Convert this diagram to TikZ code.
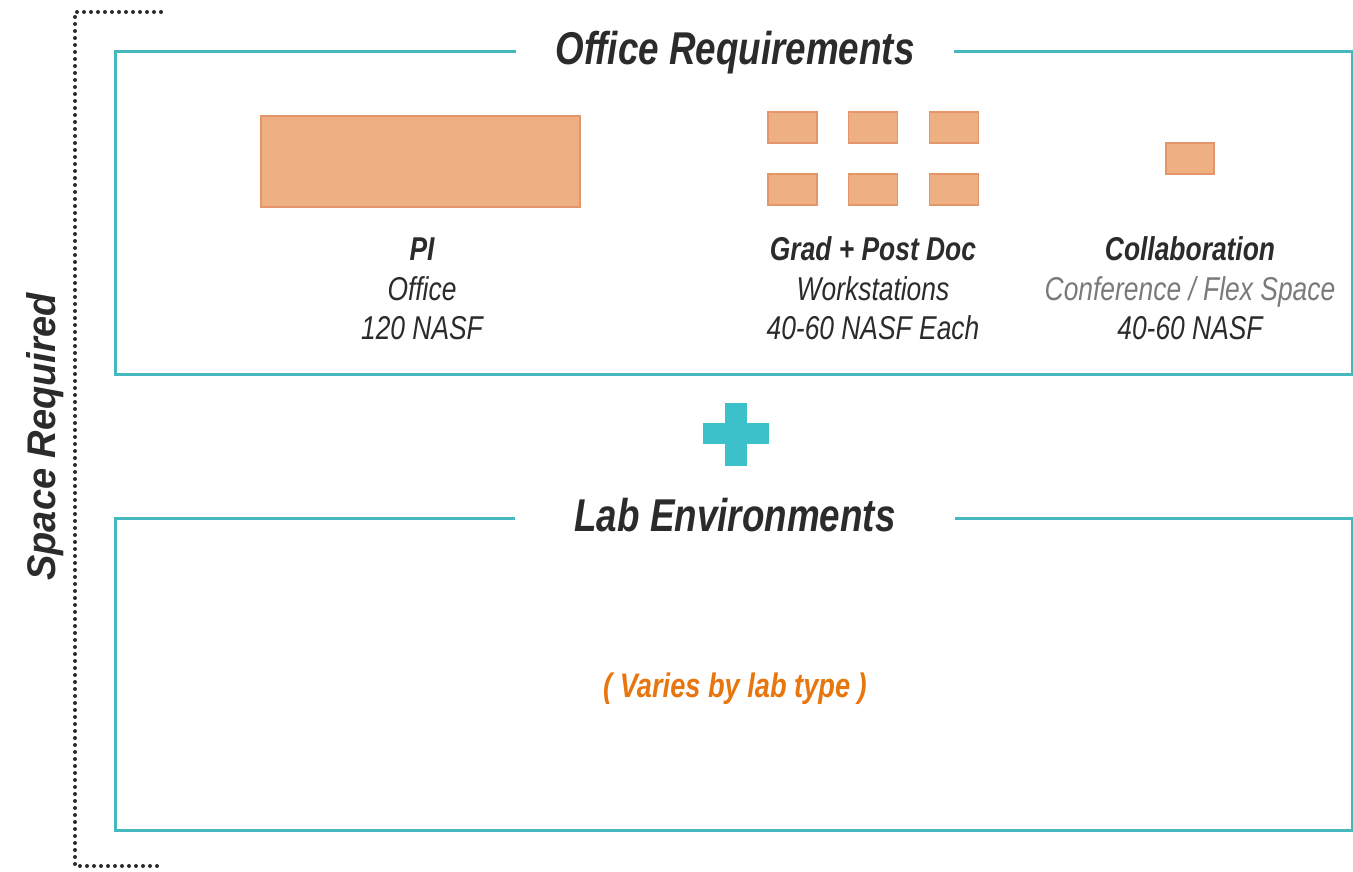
\documentclass[tikz,border=0pt]{standalone}
\usepackage{fontspec}
\setmainfont{Liberation Sans}
\newfontfamily\condfont[FakeStretch=0.8]{Liberation Sans}
\newfontfamily\sidefont[FakeStretch=0.95]{Liberation Sans}

\definecolor{frameteal}{HTML}{45B8BD}
\definecolor{plusteal}{HTML}{3CC0CA}
\definecolor{roomfill}{HTML}{EEAF82}
\definecolor{roomedge}{HTML}{E2966A}
\definecolor{inkdark}{HTML}{2B2B2B}
\definecolor{inkgray}{HTML}{7A7A7A}
\definecolor{noteorange}{HTML}{E8760F}

\begin{document}
\begin{tikzpicture}[x=1pt,y=-1pt,
  frame/.style={draw=frameteal,line width=3pt},
  heading/.style={font=\condfont\bfseries\itshape\fontsize{46}{52}\selectfont,
    text=inkdark,fill=white,inner ysep=2pt,anchor=base},
  room/.style={draw=roomedge,fill=roomfill,line width=1.2pt,inner sep=0pt},
  wsroom/.style={room,minimum width=49pt,minimum height=31pt},
  labtitle/.style={font=\condfont\bfseries\itshape\fontsize{33}{40}\selectfont,
    text=inkdark,anchor=base,inner sep=0pt},
  labtext/.style={font=\condfont\itshape\fontsize{33}{40}\selectfont,
    text=inkdark,anchor=base,inner sep=0pt},
  bracket/.style={draw=inkdark,line width=4pt,line cap=round,
    dash pattern=on 0pt off 7pt}]
\useasboundingbox (0,0) rectangle (1353,871);

% dotted bracket on the left
\coordinate (bt) at (161,12);
\coordinate (tl) at (75,12);
\coordinate (bl) at (75,866);
\coordinate (bb) at (161,866);
\draw[bracket] (bt) -- (tl) -- (bl) -- (bb);
\node[font=\sidefont\bfseries\itshape\fontsize{40}{46}\selectfont,text=inkdark,
  rotate=90,anchor=base,inner sep=0pt] (side) at (55,437) {Space Required};

% office requirements frame
\draw[frame] (115,51) rectangle (1352,374);
\node[heading,inner xsep=39pt] (offh) at (735,64) {Office Requirements};

\node[room,minimum width=319pt,minimum height=91pt] (pi) at (420.5,161.5) {};
\node[wsroom] (w1) at (792.5,127.5) {};
\node[wsroom] (w2) at (873,127.5) {};
\node[wsroom] (w3) at (954,127.5) {};
\node[wsroom] (w4) at (792.5,189.5) {};
\node[wsroom] (w5) at (873,189.5) {};
\node[wsroom] (w6) at (954,189.5) {};
\node[room,minimum width=48pt,minimum height=31pt] (co) at (1190,158.5) {};

\node[labtitle] (pit) at (422,260) {PI};
\node[labtext] (pis) at (422,300) {Office};
\node[labtext] (pia) at (422,339) {120 NASF};

\node[labtitle] (gt) at (873,260) {Grad + Post Doc};
\node[labtext] (gs) at (873,300) {Workstations};
\node[labtext] (ga) at (873,339) {40-60 NASF Each};

\node[labtitle] (ct) at (1190,260) {Collaboration};
\node[labtext,text=inkgray] (cs) at (1190,300) {Conference / Flex Space};
\node[labtext] (ca) at (1190,339) {40-60 NASF};

% plus sign
\fill[plusteal] (725,403) rectangle (747,466);
\fill[plusteal] (703,423) rectangle (769,444);

% lab environments frame
\draw[frame] (115,518) rectangle (1352,830);
\node[heading,inner xsep=59pt] (labh) at (735,531) {Lab Environments};
\node[font=\condfont\bfseries\itshape\fontsize{34}{40}\selectfont,
  text=noteorange,anchor=base,inner sep=0pt] (note) at (735,697) {( Varies by lab type )};
\end{tikzpicture}
\end{document}
